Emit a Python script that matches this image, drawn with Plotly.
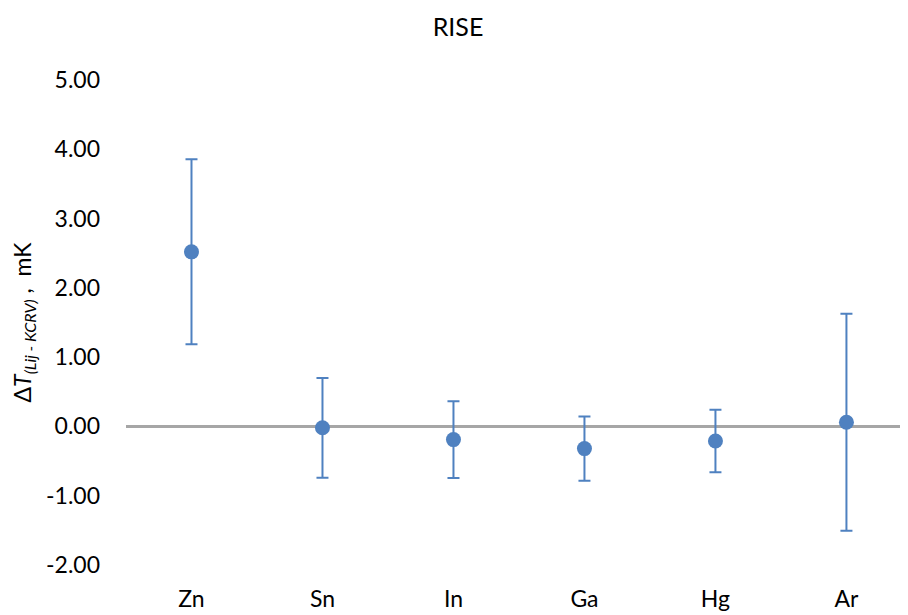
import plotly.graph_objects as go

categories = ["Zn", "Sn", "In", "Ga", "Hg", "Ar"]
values = [2.52, -0.02, -0.19, -0.32, -0.21, 0.06]
errors = [1.335, 0.72, 0.555, 0.465, 0.45, 1.565]
ytick_vals = [-2, -1, 0, 1, 2, 3, 4, 5]
ytick_text = ["%.2f" % v for v in ytick_vals]

blue = "#4F81C0"
font_family = "Lato, 'Open Sans', sans-serif"

fig = go.Figure()
fig.add_trace(go.Scatter(
    x=list(range(len(categories))),
    y=values,
    mode="markers",
    marker=dict(color=blue, size=15),
    error_y=dict(type="data", array=errors, visible=True, color=blue, thickness=2, width=6),
    showlegend=False,
))

fig.update_layout(
    width=900, height=607,
    paper_bgcolor="white", plot_bgcolor="white",
    margin=dict(l=118, r=0, t=72, b=50),
    font=dict(family=font_family, size=23, color="#000000"),
    title=dict(text="RISE", x=0.5, xanchor="center", y=1 - 19 / 607, yanchor="middle",
               font=dict(size=25, family=font_family, color="#000000")),
    xaxis=dict(
        tickmode="array", tickvals=list(range(len(categories))), ticktext=categories,
        range=[-0.5, 5.47], showgrid=False, zeroline=False, showline=False,
        ticks="", ticklabelstandoff=18, tickfont=dict(size=23),
    ),
    yaxis=dict(
        tickmode="array", tickvals=ytick_vals, ticktext=ytick_text,
        range=[-2, 5], showgrid=False, showline=False, ticks="",
        zeroline=True, zerolinecolor="#A6A6A6", zerolinewidth=3,
        ticklabelstandoff=25, tickfont=dict(size=23),
        title=dict(text="Δ<i>T</i><sub><i>(Lij - KCRV)</i></sub> ,  mK",
                   font=dict(size=23), standoff=18),
    ),
)

fig.write_html("out.html")
